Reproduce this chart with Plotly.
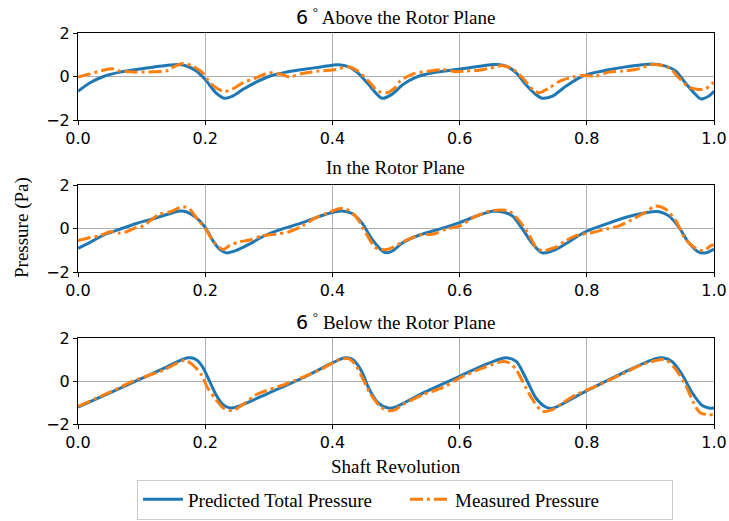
import plotly.graph_objects as go

# ---------------- data ----------------
top_pred_x = [0, 0.019, 0.04, 0.066, 0.092, 0.118, 0.145, 0.158, 0.172, 0.186, 0.2, 0.217, 0.23, 0.243, 0.259, 0.28, 0.30, 0.327, 0.353, 0.379, 0.400, 0.41, 0.425, 0.44, 0.457, 0.478, 0.493, 0.511, 0.532, 0.558, 0.595, 0.626, 0.652, 0.66, 0.673, 0.689, 0.704, 0.72, 0.73, 0.746, 0.767, 0.788, 0.804, 0.83, 0.856, 0.887, 0.903, 0.924, 0.94, 0.955, 0.971, 0.979, 0.992, 1.0]
top_pred_y = [-0.68, -0.29, 0.0, 0.2, 0.32, 0.43, 0.53, 0.55, 0.47, 0.25, -0.14, -0.75, -1.0, -0.9, -0.6, -0.26, 0.0, 0.2, 0.32, 0.43, 0.52, 0.54, 0.45, 0.17, -0.37, -1.0, -0.83, -0.37, -0.03, 0.17, 0.32, 0.45, 0.55, 0.55, 0.48, 0.17, -0.37, -0.83, -1.0, -0.9, -0.45, -0.06, 0.12, 0.29, 0.42, 0.54, 0.57, 0.48, 0.25, -0.3, -0.83, -1.03, -0.9, -0.68]

top_meas_x = [0, 0.019, 0.04, 0.056, 0.066, 0.092, 0.118, 0.139, 0.144, 0.165, 0.18, 0.196, 0.207, 0.217, 0.23, 0.243, 0.259, 0.28, 0.30, 0.321, 0.332, 0.353, 0.379, 0.405, 0.425, 0.44, 0.457, 0.472, 0.485, 0.498, 0.506, 0.527, 0.553, 0.574, 0.595, 0.61, 0.631, 0.647, 0.668, 0.683, 0.699, 0.715, 0.725, 0.741, 0.757, 0.778, 0.793, 0.814, 0.835, 0.856, 0.877, 0.903, 0.929, 0.945, 0.96, 0.976, 0.987, 0.997, 1.0]
top_meas_y = [-0.03, 0.12, 0.29, 0.35, 0.25, 0.2, 0.22, 0.25, 0.35, 0.6, 0.48, 0.17, -0.26, -0.52, -0.69, -0.57, -0.29, -0.06, 0.17, 0.09, -0.02, 0.14, 0.25, 0.32, 0.45, 0.25, -0.22, -0.68, -0.75, -0.52, -0.22, 0.12, 0.25, 0.32, 0.22, 0.25, 0.29, 0.38, 0.5, 0.35, -0.06, -0.6, -0.75, -0.52, -0.22, -0.03, 0.05, 0.02, 0.2, 0.25, 0.32, 0.55, 0.4, -0.06, -0.48, -0.6, -0.57, -0.32, -0.3]

mid_pred_x = [0, 0.019, 0.04, 0.066, 0.092, 0.118, 0.144, 0.16, 0.17, 0.186, 0.2, 0.212, 0.222, 0.233, 0.248, 0.27, 0.29, 0.32, 0.353, 0.384, 0.405, 0.415, 0.43, 0.446, 0.462, 0.478, 0.485, 0.495, 0.511, 0.537, 0.568, 0.6, 0.631, 0.652, 0.668, 0.683, 0.699, 0.715, 0.73, 0.751, 0.772, 0.798, 0.83, 0.866, 0.903, 0.914, 0.929, 0.945, 0.96, 0.976, 0.987, 1.0]
mid_pred_y = [-0.91, -0.64, -0.3, -0.03, 0.23, 0.45, 0.68, 0.8, 0.77, 0.5, 0.05, -0.56, -0.94, -1.12, -1.02, -0.71, -0.38, -0.03, 0.27, 0.6, 0.77, 0.8, 0.7, 0.27, -0.48, -1.02, -1.12, -1.02, -0.64, -0.3, -0.03, 0.27, 0.62, 0.79, 0.76, 0.58, -0.03, -0.71, -1.12, -0.97, -0.61, -0.15, 0.2, 0.55, 0.77, 0.77, 0.58, 0.05, -0.64, -1.09, -1.12, -0.94]

mid_meas_x = [0, 0.019, 0.035, 0.05, 0.066, 0.076, 0.092, 0.103, 0.113, 0.128, 0.144, 0.165, 0.175, 0.188, 0.201, 0.212, 0.228, 0.238, 0.254, 0.27, 0.29, 0.311, 0.332, 0.353, 0.374, 0.394, 0.41, 0.42, 0.436, 0.452, 0.467, 0.478, 0.49, 0.511, 0.537, 0.558, 0.579, 0.6, 0.621, 0.647, 0.663, 0.678, 0.694, 0.71, 0.72, 0.73, 0.751, 0.767, 0.783, 0.809, 0.83, 0.851, 0.877, 0.893, 0.908, 0.924, 0.94, 0.955, 0.971, 0.984, 0.995, 1.0]
mid_meas_y = [-0.56, -0.41, -0.33, -0.15, -0.21, -0.15, 0.05, 0.12, 0.35, 0.65, 0.76, 1.0, 0.91, 0.42, -0.03, -0.56, -0.97, -0.79, -0.61, -0.53, -0.33, -0.26, -0.15, 0.12, 0.5, 0.73, 0.91, 0.92, 0.58, -0.18, -0.86, -0.97, -0.93, -0.61, -0.3, -0.26, -0.03, 0.12, 0.5, 0.8, 0.85, 0.8, 0.35, -0.33, -0.86, -1.02, -0.86, -0.56, -0.33, -0.18, -0.03, 0.12, 0.5, 0.76, 1.03, 0.88, 0.35, -0.48, -0.91, -1.02, -0.79, -0.76]

bot_pred_x = [0, 0.05, 0.1, 0.14, 0.16, 0.173, 0.18, 0.188, 0.196, 0.207, 0.217, 0.228, 0.24, 0.25, 0.3, 0.353, 0.4, 0.42, 0.432, 0.446, 0.457, 0.472, 0.488, 0.5, 0.542, 0.6, 0.647, 0.673, 0.689, 0.704, 0.72, 0.736, 0.746, 0.798, 0.856, 0.908, 0.919, 0.934, 0.95, 0.966, 0.981, 0.992, 1.0]
bot_pred_y = [-1.22, -0.55, 0.12, 0.66, 0.95, 1.08, 1.07, 0.95, 0.65, -0.02, -0.64, -1.1, -1.26, -1.2, -0.56, 0.14, 0.84, 1.08, 1.0, 0.45, -0.33, -1.02, -1.26, -1.2, -0.56, 0.22, 0.84, 1.08, 0.91, 0.14, -0.79, -1.22, -1.27, -0.48, 0.37, 1.04, 1.08, 0.91, 0.29, -0.56, -1.13, -1.26, -1.26]

bot_meas_x = [0, 0.05, 0.092, 0.134, 0.155, 0.168, 0.18, 0.194, 0.204, 0.217, 0.23, 0.243, 0.259, 0.28, 0.327, 0.353, 0.384, 0.41, 0.425, 0.436, 0.446, 0.459, 0.475, 0.488, 0.5, 0.506, 0.542, 0.574, 0.6, 0.636, 0.668, 0.678, 0.689, 0.699, 0.715, 0.73, 0.746, 0.762, 0.783, 0.814, 0.856, 0.887, 0.914, 0.924, 0.94, 0.955, 0.968, 0.979, 1.0]
bot_meas_y = [-1.18, -0.52, 0.06, 0.5, 0.82, 0.97, 0.76, 0.29, -0.33, -0.87, -1.29, -1.38, -1.1, -0.64, -0.14, 0.17, 0.57, 0.99, 1.04, 0.76, 0.22, -0.56, -1.18, -1.38, -1.32, -1.18, -0.64, -0.3, 0.14, 0.6, 0.91, 0.84, 0.53, -0.02, -0.87, -1.41, -1.33, -1.02, -0.64, -0.25, 0.33, 0.76, 0.99, 0.99, 0.53, -0.17, -1.02, -1.49, -1.57]

x_ticks = [0.0, 0.2, 0.4, 0.6, 0.8, 1.0]
y_ticks = [-2, 0, 2]
titles = ["6 ° Above the Rotor Plane", "In the Rotor Plane", "6 ° Below the Rotor Plane"]
series_names = ["Predicted Total Pressure", "Measured Pressure"]

# ---------------- figure ----------------
BLUE = "#1f77b4"
ORANGE = "#ff7f0e"
SERIF = "Liberation Serif, Times New Roman, serif"
SANS = "DejaVu Sans, sans-serif"

W, H = 729, 521
ML, MR, MT, MB = 78, 15, 33, 97
ph = H - MT - MB
pw = W - ML - MR

def frac(px_top, px_bot):
    # pixel rows -> paper fraction of plot area
    return [(H - MB - px_bot) / ph, (H - MB - px_top) / ph]

domains = [frac(33, 120), frac(185, 272), frac(338, 424)]

fig = go.Figure()
panels = [
    (top_pred_x, top_pred_y, top_meas_x, top_meas_y),
    (mid_pred_x, mid_pred_y, mid_meas_x, mid_meas_y),
    (bot_pred_x, bot_pred_y, bot_meas_x, bot_meas_y),
]
for i, (px, py, mx, my) in enumerate(panels):
    sfx = "" if i == 0 else str(i + 1)
    fig.add_trace(go.Scatter(x=px, y=py, mode="lines", name=series_names[0],
                             line=dict(color=BLUE, width=3, shape="spline", smoothing=0.8),
                             xaxis="x" + sfx, yaxis="y" + sfx, showlegend=(i == 0)))
    fig.add_trace(go.Scatter(x=mx, y=my, mode="lines", name=series_names[1],
                             line=dict(color=ORANGE, width=3, shape="spline", smoothing=0.8,
                                       dash="13px,4px,3px,4px"),
                             xaxis="x" + sfx, yaxis="y" + sfx, showlegend=(i == 0)))

axis_common = dict(showline=True, mirror=True, linecolor="black", linewidth=1,
                   ticks="outside", ticklen=4, tickcolor="black", tickwidth=1,
                   showgrid=True, gridcolor="#b0b0b0", gridwidth=1, zeroline=False,
                   tickfont=dict(family=SANS, size=16, color="black"))

layout = dict(width=W, height=H, margin=dict(l=ML, r=MR, t=MT, b=MB, autoexpand=False),
              plot_bgcolor="white", paper_bgcolor="white",
              legend=dict(orientation="h", x=(405 - ML) / pw, xanchor="center",
                          y=(424 - 499.5) / ph, yanchor="middle",
                          bordercolor="#cccccc", borderwidth=1,
                          font=dict(family=SERIF, size=19, color="black"),
                          itemwidth=40, entrywidth=212, tracegroupgap=0),
              annotations=[])
for i in range(3):
    sfx = "" if i == 0 else str(i + 1)
    layout["xaxis" + sfx] = dict(axis_common, domain=[0, 1], range=[0, 1], tickvals=x_ticks,
                                 ticktext=[f"{v:.1f}" for v in x_ticks], anchor="y" + sfx)
    layout["yaxis" + sfx] = dict(axis_common, domain=domains[i], range=[-2, 2], tickvals=y_ticks,
                                 ticktext=["\u22122" if v < 0 else str(v) for v in y_ticks],
                                 anchor="x" + sfx)
    t = titles[i]
    if t.startswith("6 °"):
        t = '<span style="font-family:DejaVu Sans">6</span> <sup>°</sup> ' + t[4:]
    layout["annotations"].append(dict(text=t, x=(395 - ML) / pw, y=domains[i][1], xref="paper", yref="paper",
                                      xanchor="center", yanchor="middle", yshift=17.5, showarrow=False,
                                      font=dict(family=SERIF, size=19, color="black")))

layout["annotations"].append(dict(text="Shaft Revolution", x=(396 - ML) / pw, y=(424 - 466) / ph,
                                  xref="paper", yref="paper", xanchor="center", yanchor="middle",
                                  showarrow=False, font=dict(family=SERIF, size=19, color="black")))
layout["annotations"].append(dict(text="Pressure (Pa)", x=(22 - ML) / pw, y=(424 - 228) / ph,
                                  xref="paper", yref="paper", xanchor="center", yanchor="middle",
                                  textangle=-90, showarrow=False,
                                  font=dict(family=SERIF, size=19, color="black")))

fig.update_layout(**layout)
fig.write_html("out.html")
